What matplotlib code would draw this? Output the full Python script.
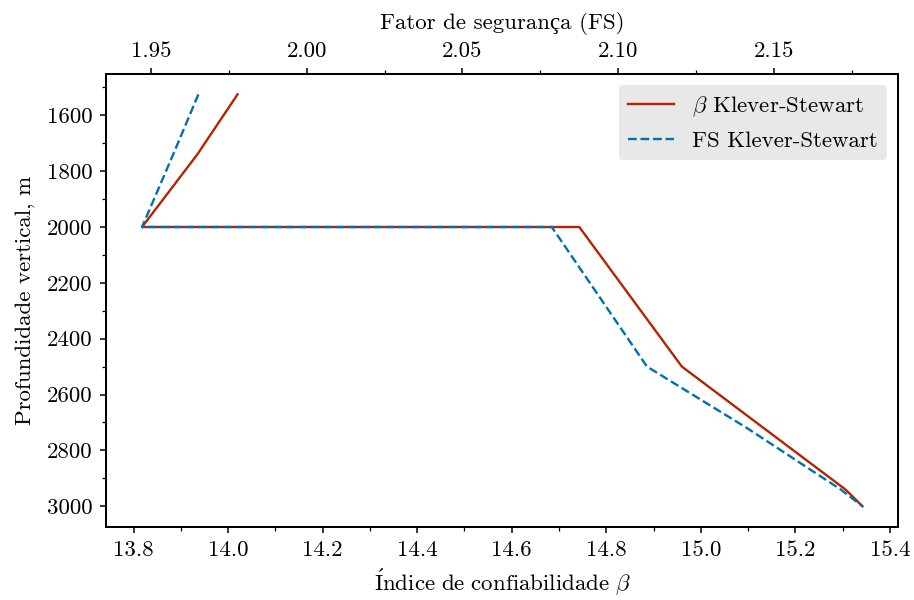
import matplotlib
matplotlib.use("Agg")
import matplotlib.pyplot as plt
from matplotlib.ticker import MultipleLocator, FormatStrFormatter

plt.rcParams['font.family'] = ['cmr10', 'Liberation Serif']
plt.rcParams['mathtext.fontset'] = 'cm'
plt.rcParams['axes.formatter.use_mathtext'] = True
plt.rcParams['axes.unicode_minus'] = False
plt.rcParams['font.size'] = 16.5

# profundidade (m)
depth = [1525, 1740, 2000, 2000, 2500, 2720, 2940, 3000]
# indice de confiabilidade beta
beta_ks = [14.020, 13.935, 13.818, 14.743, 14.960, 15.133, 15.306, 15.342]
# fator de seguranca
fs_ks = [1.9652, 1.9571, 1.9471, 2.0787, 2.1093, 2.1414, 2.1715, 2.1785]

red = '#b32400'
blue = '#0070b0'

fig, ax = plt.subplots(figsize=(9.14, 6.0), dpi=100)
fig.subplots_adjust(left=0.116, right=0.983, top=0.877, bottom=0.122)

l1, = ax.plot(beta_ks, depth, color=red, lw=1.7, label=r'$\beta$ Klever-Stewart')
ax2 = ax.twiny()
l2, = ax2.plot(fs_ks, depth, color=blue, lw=1.7, ls='--', label='FS Klever-Stewart')

ax.invert_yaxis()
ax.set_xlabel(r'$\mathrm{\acute{I}ndice\ de\ confiabilidade}\ \beta$', labelpad=5)
ax.set_ylabel('Profundidade vertical, m', labelpad=9)
ax2.set_xlabel('Fator de segurança (FS)', labelpad=9)

ax.xaxis.set_major_locator(MultipleLocator(0.2))
ax.xaxis.set_minor_locator(MultipleLocator(0.1))
ax.yaxis.set_major_locator(MultipleLocator(200))
ax.yaxis.set_minor_locator(MultipleLocator(100))
ax2.xaxis.set_major_locator(MultipleLocator(0.05))
ax2.xaxis.set_minor_locator(MultipleLocator(0.025))
ax.xaxis.set_major_formatter(FormatStrFormatter('%.1f'))
ax2.xaxis.set_major_formatter(FormatStrFormatter('%.2f'))
ax.yaxis.set_major_formatter(FormatStrFormatter('%d'))

for a in (ax, ax2):
    a.tick_params(which='major', length=4.5, width=1.1, pad=5)
    a.tick_params(which='minor', length=2.8, width=0.9)
    for s in a.spines.values():
        s.set_linewidth(1.4)

leg = ax2.legend(handles=[l1, l2], loc='upper right', fancybox=True,
                 facecolor='#e8e8e8', edgecolor='none', framealpha=1,
                 fontsize=16.5)

fig.savefig('out.png', dpi=100)
